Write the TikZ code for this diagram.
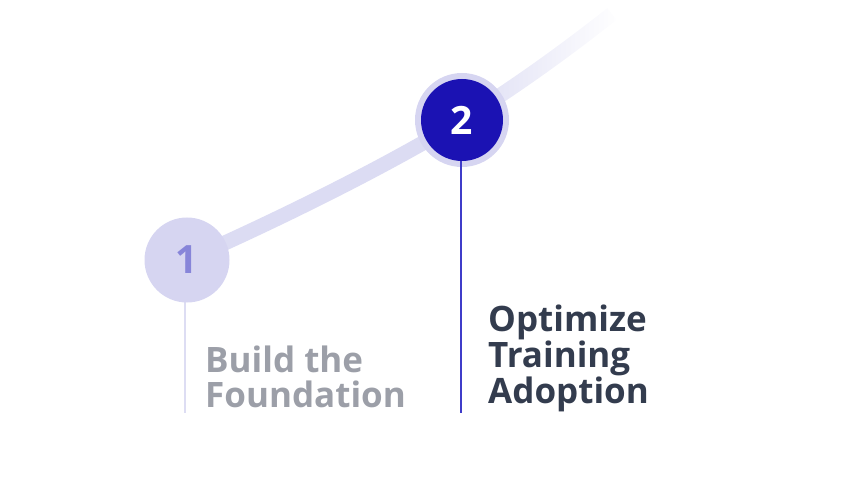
\documentclass[tikz,border=0pt]{standalone}
\usepackage{fontspec}
\setmainfont{Open Sans}
\usetikzlibrary{fadings}
\definecolor{lav}{HTML}{D6D5F1}
\definecolor{curvec}{HTML}{DCDCF3}
\definecolor{numone}{HTML}{8785D9}
\definecolor{darkb}{HTML}{1B12B3}
\definecolor{linetwo}{HTML}{3F3CC9}
\definecolor{linetone}{HTML}{DDDDF3}
\definecolor{txtdark}{HTML}{333C4E}
\definecolor{txtgray}{HTML}{9C9FA8}
\tikzfading[name=tailfade, left color=transparent!0, middle color=transparent!30, right color=transparent!100]
\tikzset{
  trackline/.style={line width=15pt, curvec},
  stepcircle/.style={circle, inner sep=0pt, minimum size=85pt, fill=lav},
  ringcircle/.style={circle, inner sep=0pt, minimum size=94pt, fill=lav},
  activecircle/.style={circle, inner sep=0pt, minimum size=82pt, fill=darkb},
  numtext/.style={font=\fontsize{39}{39}\selectfont\bfseries},
  labeltext/.style={anchor=base west, align=left, inner sep=0pt, font=\fontsize{35}{34.5}\selectfont\bfseries},
}
\begin{document}
\begin{tikzpicture}[x=1pt,y=-1pt]
\useasboundingbox (0,0) rectangle (864,478);
% coordinates
\coordinate (p1) at (187,260);
\coordinate (p2) at (462,120);
\coordinate (pend) at (612,14);
\coordinate (l1top) at (185,290);
\coordinate (l1bot) at (185,413);
\coordinate (l2bot) at (461,413);
% track
\draw[trackline] (p1) .. controls (300,210) and (400,158) .. (p2);
\draw[trackline, path fading=tailfade] (p2) .. controls (520,84) and (570,47) .. (pend);
% vertical lines
\draw[linetone, line width=2.2pt] (l1top) -- (l1bot);
% circles
\node[stepcircle] (c1) at (p1) {};
\node[numtext, text=numone] (n1) at (p1) {1};
\node[ringcircle] (c2ring) at (p2) {};
\node[activecircle] (c2) at (p2) {};
\node[numtext, text=white] (n2) at (p2) {2};
\draw[linetwo, line width=2.5pt] (c2.south -| l2bot) -- (l2bot);
% labels
\node[labeltext, text=txtgray] (t1) at (205,407) {Build the\\Foundation};
\node[labeltext, text=txtdark] (t2) at (488,403) {Optimize\\Training\\Adoption};
\end{tikzpicture}
\end{document}
